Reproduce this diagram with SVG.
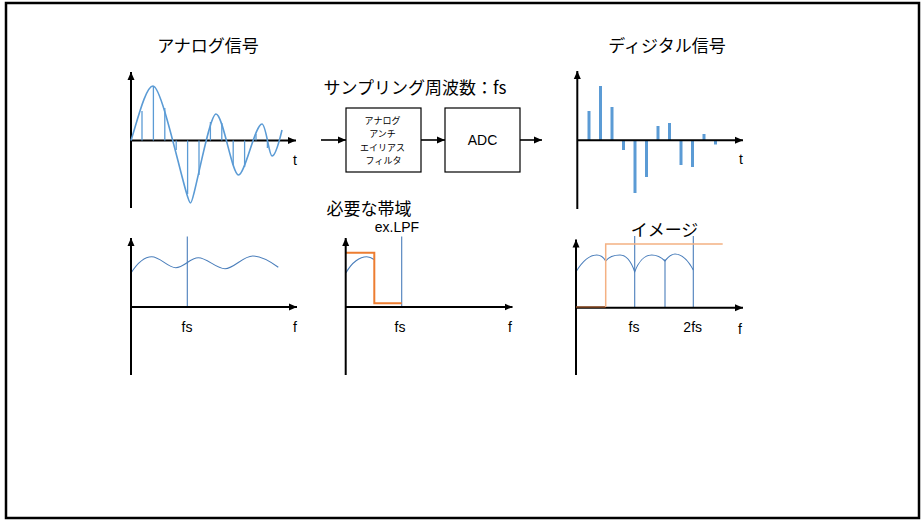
<svg xmlns="http://www.w3.org/2000/svg" width="921" height="520" viewBox="0 0 921 520">
<defs>
<marker id="ah" markerUnits="userSpaceOnUse" markerWidth="9" markerHeight="8" refX="8" refY="4" orient="auto">
<path d="M0,0.5 L8,4 L0,7.5 Z" fill="#000"/>
</marker>
<style>
.ax{stroke:#000;stroke-width:2;fill:none}
.bx{stroke:#000;stroke-width:1.2;fill:#fff}
.ar{stroke:#000;stroke-width:1.6;fill:none}
.w{stroke:#5B9BD5;stroke-width:1.6;fill:none}
.s{stroke:#5B9BD5;stroke-width:1.3}
.d{stroke:#5B9BD5;stroke-width:3}
.sp{stroke:#4A7EBB;stroke-width:1.1;fill:none}
.jp{font-family:"Noto Sans CJK JP","Noto Sans CJK SC",sans-serif;fill:#000}
.lt{font-family:"Liberation Sans","Noto Sans CJK JP",sans-serif;fill:#000;font-size:14px}
</style>
</defs>
<rect x="6" y="3" width="913" height="515" fill="#fff" stroke="#000" stroke-width="2.5"/>

<g id="analog-signal">
<text class="jp" x="208" y="52" font-size="17" text-anchor="middle">アナログ信号</text>
<line class="ax" x1="131" y1="208" x2="131" y2="72" marker-end="url(#ah)"/>
<line class="ax" x1="131" y1="140.5" x2="296" y2="140.5" marker-end="url(#ah)"/>
<path class="w" d="M131,140.5 C138,118 146,86 153,86 C163,86 186,203 190.5,203 C194,203 209,114 216,114 C223,114 232,175 238.5,175 C245,175 255,124 262,124 C266,124 269,156 272,156 C276,156 280,138 282,130"/>
<g class="s">
<line x1="142" y1="140.5" x2="142" y2="111"/>
<line x1="153.4" y1="140.5" x2="153.4" y2="86"/>
<line x1="164.8" y1="140.5" x2="164.8" y2="108"/>
<line x1="176.2" y1="140.5" x2="176.2" y2="150"/>
<line x1="187.6" y1="140.5" x2="187.6" y2="194"/>
<line x1="199" y1="140.5" x2="199" y2="175"/>
<line x1="210.4" y1="140.5" x2="210.4" y2="122"/>
<line x1="221.8" y1="140.5" x2="221.8" y2="123"/>
<line x1="233.2" y1="140.5" x2="233.2" y2="165"/>
<line x1="244.6" y1="140.5" x2="244.6" y2="167"/>
<line x1="256" y1="140.5" x2="256" y2="134"/>
<line x1="267.4" y1="140.5" x2="267.4" y2="148"/>
</g>
<text class="lt" x="295" y="165" text-anchor="middle">t</text>
</g>

<g id="sampling-label">
<text class="jp" x="415" y="94" font-size="17" text-anchor="middle">サンプリング周波数：fs</text>
</g>

<g id="aa-filter">
<rect class="bx" x="346" y="108" width="75" height="64"/>
<text class="jp" font-size="9" text-anchor="middle">
<tspan x="383.5" y="124">アナログ</tspan>
<tspan x="383.5" y="137.3">アンチ</tspan>
<tspan x="383.5" y="150.6">エイリアス</tspan>
<tspan x="383.5" y="163.9">フィルタ</tspan>
</text>
</g>

<g id="adc">
<rect class="bx" x="445" y="108" width="75" height="64"/>
<text class="lt" x="482.5" y="145" text-anchor="middle">ADC</text>
</g>

<g id="connectors">
<line class="ar" x1="321" y1="140" x2="346" y2="140" marker-end="url(#ah)"/>
<line class="ar" x1="421" y1="140" x2="445" y2="140" marker-end="url(#ah)"/>
<line class="ar" x1="520" y1="140" x2="542" y2="140" marker-end="url(#ah)"/>
</g>

<g id="digital-signal">
<text class="jp" x="667" y="52" font-size="17" text-anchor="middle">ディジタル信号</text>
<g class="d">
<line x1="589" y1="140.3" x2="589" y2="111"/>
<line x1="600.5" y1="140.3" x2="600.5" y2="86"/>
<line x1="612" y1="140.3" x2="612" y2="107"/>
<line x1="623.5" y1="140.3" x2="623.5" y2="150"/>
<line x1="635" y1="140.3" x2="635" y2="193"/>
<line x1="646.5" y1="140.3" x2="646.5" y2="177"/>
<line x1="658" y1="140.3" x2="658" y2="126"/>
<line x1="669.5" y1="140.3" x2="669.5" y2="123"/>
<line x1="681" y1="140.3" x2="681" y2="165"/>
<line x1="692.5" y1="140.3" x2="692.5" y2="167"/>
<line x1="704" y1="140.3" x2="704" y2="134"/>
<line x1="715.5" y1="140.3" x2="715.5" y2="144.5"/>
</g>
<line class="ax" x1="577.3" y1="209" x2="577.3" y2="71" marker-end="url(#ah)"/>
<line class="ax" x1="577.3" y1="140.3" x2="743" y2="140.3" marker-end="url(#ah)"/>
<text class="lt" x="741" y="164" text-anchor="middle">t</text>
</g>

<g id="analog-spectrum">
<line class="sp" x1="187.3" y1="236.5" x2="187.3" y2="307"/>
<path class="sp" d="M131,273 C138,262 144,256.7 151.7,256.7 C160,256.7 168,267.7 175.7,267.7 C184,267.7 190,257.7 198.3,257.7 C207,257.7 216,268.7 225,268.7 C234,268.7 243,256 252.7,256 C262,256 271,262 278.3,267.3"/>
<line class="ax" x1="131" y1="375" x2="131" y2="238" marker-end="url(#ah)"/>
<line class="ax" x1="131" y1="307" x2="297" y2="307" marker-end="url(#ah)"/>
<text class="lt" x="187" y="332" text-anchor="middle">fs</text>
<text class="lt" x="295" y="332" text-anchor="middle">f</text>
</g>

<g id="lpf-spectrum">
<text class="jp" x="369" y="215" font-size="17" text-anchor="middle">必要な帯域</text>
<text class="lt" x="397" y="232" text-anchor="middle">ex.LPF</text>
<line class="sp" x1="401.7" y1="236.5" x2="401.7" y2="307"/>
<path class="sp" d="M346,272.7 C352,262 360,256.7 366.7,256.7 C370,256.7 372,258 374,259.5"/>
<path d="M346,252.7 H374.3 V303.3 H401.7" fill="none" stroke="#ED7D31" stroke-width="2"/>
<line class="ax" x1="345.7" y1="375" x2="345.7" y2="238" marker-end="url(#ah)"/>
<line class="ax" x1="345.7" y1="307" x2="512.5" y2="307" marker-end="url(#ah)"/>
<text class="lt" x="400" y="332" text-anchor="middle">fs</text>
<text class="lt" x="510" y="332" text-anchor="middle">f</text>
</g>

<g id="image-spectrum">
<line class="sp" x1="634.7" y1="236" x2="634.7" y2="307.7"/>
<line class="sp" x1="665" y1="259.3" x2="665" y2="307.7"/>
<line class="sp" x1="693.3" y1="236" x2="693.3" y2="307.7"/>
<path class="sp" d="M576,271.7 C582,262 589,255 596.7,255 C601,255 604,258 605.7,261 C608,258 613,255 620,255 C628,255 632,264 634.7,271.7 C638,263 644,255 651.7,255 C657,255 662,258 665,261 C668,257 671,254 675,254 C683,254 689,262 693.3,270"/>
<line class="ax" x1="576" y1="375" x2="576" y2="239.5" marker-end="url(#ah)"/>
<line class="ax" x1="576" y1="307.7" x2="743" y2="307.7" marker-end="url(#ah)"/>
<line x1="576" y1="307" x2="605.7" y2="307" stroke="#8A4A22" stroke-width="1.5"/>
<path d="M605.7,307 V244 H722.7" fill="none" stroke="#F4B183" stroke-width="1.5"/>
<text class="jp" x="664.5" y="235.5" font-size="17" text-anchor="middle">イメージ</text>
<text class="lt" x="634" y="332" text-anchor="middle">fs</text>
<text class="lt" x="692.7" y="332" text-anchor="middle">2fs</text>
<text class="lt" x="740" y="334" text-anchor="middle">f</text>
</g>
</svg>
